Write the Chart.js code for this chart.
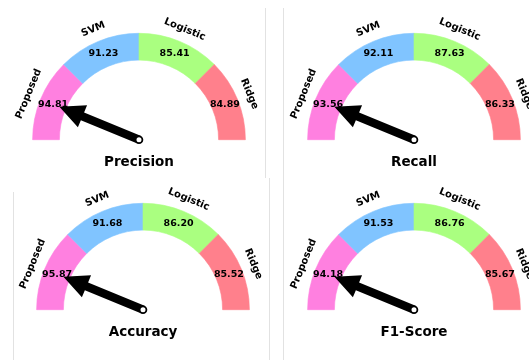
<!DOCTYPE html>
<html>
<head>
<meta charset="utf-8">
<script src="https://cdn.jsdelivr.net/npm/chart.js@4"></script>
<style>
  html, body { margin: 0; padding: 0; background: #fff; }
  #board { position: relative; width: 529px; height: 360px; overflow: hidden; background: #fff; }
  #board canvas { position: absolute; left: 0; top: 0; }
  .rule { position: absolute; width: 1px; background: #e2e2e2; }
</style>
</head>
<body>
<div id="board">
  <div class="rule" style="left:265px; top:8px; height:170px;"></div>
  <div class="rule" style="left:269px; top:178px; height:182px;"></div>
  <div class="rule" style="left:283px; top:8px; height:352px;"></div>
  <div class="rule" style="left:13px; top:192px; height:168px;"></div>
  <canvas id="g0" width="529" height="360"></canvas>
  <canvas id="g1" width="529" height="360"></canvas>
  <canvas id="g2" width="529" height="360"></canvas>
  <canvas id="g3" width="529" height="360"></canvas>
</div>
<script>
// Models compared on each dial, in order from left to right
const models = ['Proposed', 'SVM', 'Logistic', 'Ridge'];

// Scores (%) per metric, one entry per model
const precision = [94.81, 91.23, 85.41, 84.89];
const recall    = [93.56, 92.11, 87.63, 86.33];
const accuracy  = [95.87, 91.68, 86.20, 85.52];
const f1Score   = [94.18, 91.53, 86.76, 85.67];

const metricNames = ['Precision', 'Recall', 'Accuracy', 'F1-Score'];

// Every model owns an equal slice of the dial
const sliceWeights = [1, 1, 1, 1];

const sliceColors = ['#ff80e0', '#80c4ff', '#aaff80', '#ff808c'];

// Dial placement on the board: centre and outer radius
const dials = [
  { cx: 139, cy: 140, r: 107 },
  { cx: 414, cy: 140, r: 107 },
  { cx: 143, cy: 310, r: 107 },
  { cx: 414, cy: 310, r: 107 }
];

const BOARD_W = 529, BOARD_H = 360;
const FONT = '"DejaVu Sans", "Liberation Sans", sans-serif';

// Draws slice labels, score values, the pointer and the metric name
const gaugeDecor = {
  id: 'gaugeDecor',
  afterDatasetsDraw(chart, args, opts) {
    const ctx = chart.ctx;
    const arcs = chart.getDatasetMeta(0).data;
    const values = opts.values;
    let cx = 0, cy = 0, outer = 0;

    ctx.save();
    ctx.fillStyle = '#000';
    ctx.textAlign = 'center';
    ctx.textBaseline = 'middle';

    arcs.forEach((arc, i) => {
      const p = arc.getProps(['x', 'y', 'startAngle', 'endAngle', 'innerRadius', 'outerRadius'], true);
      cx = p.x; cy = p.y; outer = p.outerRadius;
      const mid = (p.startAngle + p.endAngle) / 2;

      // score inside the band
      const rv = (p.innerRadius + p.outerRadius) / 2;
      ctx.font = 'bold 9.5px ' + FONT;
      ctx.fillText(values[i].toFixed(2), p.x + rv * Math.cos(mid), p.y + rv * Math.sin(mid));

      // model name outside the band, turned along the arc
      const rl = p.outerRadius + 13;
      ctx.save();
      ctx.translate(p.x + rl * Math.cos(mid), p.y + rl * Math.sin(mid));
      ctx.rotate(mid + Math.PI / 2);
      ctx.font = 'bold 10px ' + FONT;
      ctx.fillText(chart.data.labels[i], 0, 0);
      ctx.restore();
    });

    // pointer aimed at the best-scoring model
    let best = 0;
    values.forEach((v, i) => { if (v > values[best]) best = i; });
    const b = arcs[best].getProps(['startAngle', 'endAngle'], true);
    const ang = (b.startAngle + b.endAngle) / 2;
    const len = outer * 0.81;
    const hw = 4.2, headW = 12, headL = 25;
    ctx.save();
    ctx.translate(cx, cy);
    ctx.rotate(ang);
    ctx.beginPath();
    ctx.moveTo(0, -hw);
    ctx.lineTo(len - headL, -hw);
    ctx.lineTo(len - headL, -headW);
    ctx.lineTo(len, 0);
    ctx.lineTo(len - headL, headW);
    ctx.lineTo(len - headL, hw);
    ctx.lineTo(0, hw);
    ctx.closePath();
    ctx.fillStyle = '#000';
    ctx.fill();
    ctx.restore();

    ctx.beginPath();
    ctx.arc(cx, cy, 3.4, 0, Math.PI * 2);
    ctx.fillStyle = '#fff';
    ctx.fill();
    ctx.lineWidth = 1.8;
    ctx.strokeStyle = '#000';
    ctx.stroke();

    // metric name under the dial
    ctx.fillStyle = '#000';
    ctx.textBaseline = 'alphabetic';
    ctx.font = 'bold 13.5px ' + FONT;
    ctx.fillText(opts.title, cx, cy + 26);
    ctx.restore();
  }
};

const metricValues = [precision, recall, accuracy, f1Score];

metricValues.forEach((vals, k) => {
  const d = dials[k];
  new Chart(document.getElementById('g' + k), {
    type: 'doughnut',
    data: {
      labels: models,
      datasets: [{
        data: sliceWeights,
        backgroundColor: sliceColors,
        borderColor: sliceColors,
        borderWidth: 0.6,
        hoverOffset: 0
      }]
    },
    options: {
      responsive: false,
      animation: false,
      events: [],
      rotation: -90,
      circumference: 180,
      cutout: '74.8%',
      layout: {
        padding: {
          left: d.cx - d.r,
          right: BOARD_W - (d.cx + d.r),
          top: d.cy - d.r,
          bottom: BOARD_H - d.cy
        }
      },
      plugins: {
        legend: { display: false },
        tooltip: { enabled: false },
        title: { display: false },
        gaugeDecor: { values: vals, title: metricNames[k] }
      }
    },
    plugins: [gaugeDecor]
  });
});
</script>
</body>
</html>
